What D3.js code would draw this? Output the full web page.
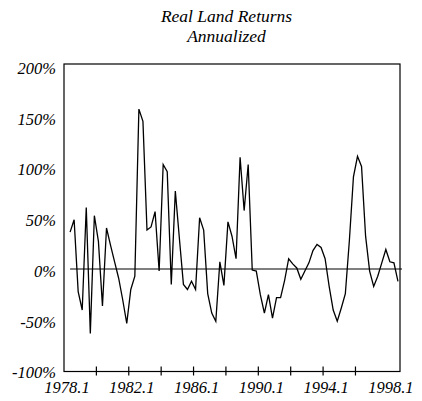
<!DOCTYPE html>
<html>
<head>
<meta charset="utf-8">
<script src="https://cdn.jsdelivr.net/npm/d3@7"></script>
<style>
  body { margin: 0; background: #fff; }
  text { font-family: "Liberation Serif", "Times New Roman", serif; font-style: italic; fill: #000; }
</style>
</head>
<body>
<script>
// quarterly categories on the axis, 1978.1 .. 1998.3
const categories = d3.range(83).map(i => (1978 + Math.floor(i / 4)) + '.' + (i % 4 + 1));

// real land returns, annualized (%), 1978.2 .. 1998.3
const returns = [36, 48, -22, -40, 60, -63, 52, 27, -36, 40,
                 23, 7, -9, -30, -53, -20, -7, 156, 144, 38,
                 41, 56, -2, 102, 95, -15, 76, 30, -15, -20,
                 -12, -20, 50, 38, -24, -43, -51, 7, -16, 46,
                 32, 10, 109, 57, 102, -1, -2, -25, -43, -25,
                 -48, -28, -28, -11, 10, 5, 1, -10, -2, 6,
                 18, 24, 21, 10, -17, -40, -51, -38, -24, 28,
                 90, 110, 100, 32, -2, -17, -7, 6, 19, 7,
                 6, -12];
const dataCats = categories.slice(1);

const yTicks = [200, 150, 100, 50, 0, -50, -100];
const xTickMarks = ['1980.1', '1982.1', '1984.1', '1986.1', '1988.1', '1990.1', '1992.1', '1994.1', '1996.1'];
const xTickLabels = ['1978.1', '1982.1', '1986.1', '1990.1', '1994.1', '1998.1'];
const titleLines = ['Real Land Returns', 'Annualized'];

const w = 422, h = 401;
const mLeft = 64, mRight = 400, mTop = 64, mBottom = 371.5;

const svg = d3.select('body').append('svg')
    .attr('width', w)
    .attr('height', h)

const x = d3.scaleBand().domain(categories).range([mLeft, mRight]).padding(0);
const bw = x.bandwidth();
const cx = c => x(c) + bw / 2;

const y = d3.scaleLinear().domain([-100, 200]).range([mBottom, mTop]);
// labels sit a touch lower than their gridline values, as in the original
const yLab = d3.scaleLinear().domain([200, -100]).range([68, 372.5]);

// title
svg.selectAll('.title').data(titleLines).enter().append('text')
    .attr('class', 'title')
    .attr('x', 226.5).attr('y', (d, i) => 22 + i * 19.5)
    .attr('text-anchor', 'middle')
    .style('font-size', '17.5px')
    .text(d => d)

// zero line (runs one quarter past the frame)
svg.append('line')
    .attr('x1', cx(dataCats[0])).attr('x2', cx(categories[categories.length - 1]) + bw)
    .attr('y1', y(0)).attr('y2', y(0))
    .attr('stroke', '#000').attr('stroke-width', 1.2)

// frame
svg.append('rect')
    .attr('x', mLeft).attr('y', mTop)
    .attr('width', mRight - mLeft).attr('height', mBottom - mTop)
    .attr('fill', 'none').attr('stroke', '#000').attr('stroke-width', 1.2)

// x tick marks at category boundaries
svg.selectAll('.xtick').data(xTickMarks).enter().append('line')
    .attr('class', 'xtick')
    .attr('x1', d => x(d)).attr('x2', d => x(d))
    .attr('y1', mBottom - 5).attr('y2', mBottom + 4)
    .attr('stroke', '#000').attr('stroke-width', 1.2)

svg.selectAll('.xlab').data(xTickLabels).enter().append('text')
    .attr('class', 'xlab')
    .attr('x', d => cx(d) + 1).attr('y', 393)
    .attr('text-anchor', 'middle')
    .style('font-size', '16.5px')
    .text(d => d)

svg.selectAll('.ylab').data(yTicks).enter().append('text')
    .attr('class', 'ylab')
    .attr('x', 56).attr('y', d => yLab(d)).attr('dy', '0.35em')
    .attr('text-anchor', 'end')
    .style('font-size', '16.5px')
    .text(d => d + '%')

// the series
const line = d3.line()
    .x((d, i) => cx(dataCats[i]))
    .y(d => y(d))

svg.append('path')
    .datum(returns)
    .attr('d', line)
    .attr('fill', 'none')
    .attr('stroke', '#000')
    .attr('stroke-width', 1.3)
    .attr('stroke-linejoin', 'miter')
</script>
</body>
</html>
